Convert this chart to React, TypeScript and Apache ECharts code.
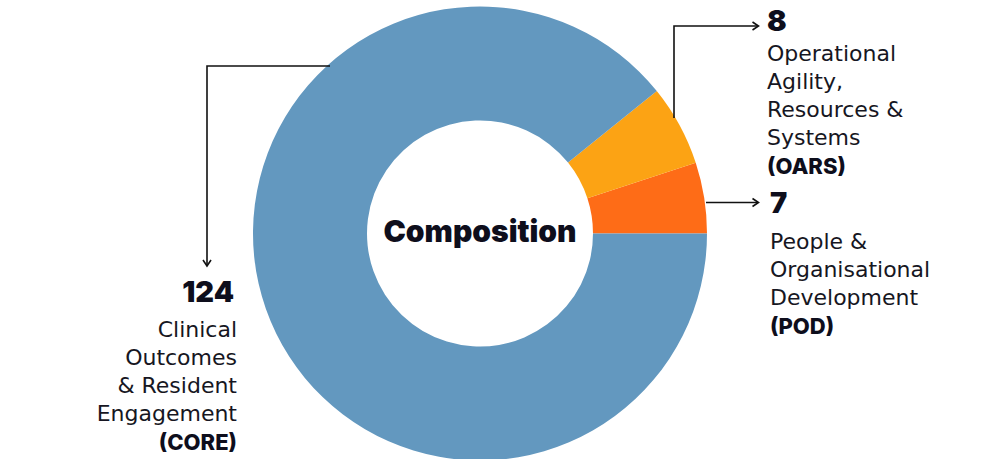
import React, { useEffect, useRef } from "react";
import * as echarts from "echarts";

// ---- data ----
const categories: string[] = ["CORE", "OARS", "POD"];
const values: number[] = [124, 8, 7];
const descriptions: string[][] = [
  ["Clinical", "Outcomes", "& Resident", "Engagement"],
  ["Operational", "Agility,", "Resources &", "Systems"],
  ["People &", "Organisational", "Development"],
];
const centerTitle = "Composition";

// ---- styles ----
const sliceColors: Record<string, string> = {
  CORE: "#6398bf",
  OARS: "#fca314",
  POD: "#fe6c17",
};
const ink = "#0e0e1c";
const BOLD_FONT = "Inter, 'Noto Sans', sans-serif";
const BODY_FONT = "'DejaVu Sans', 'Noto Sans', sans-serif";
const CX = 480;
const CY = 233.5;

export default function App() {
  const ref = useRef<HTMLDivElement>(null);

  useEffect(() => {
    if (!ref.current) return;
    const chart = echarts.init(ref.current, undefined, { renderer: "svg" });

    // pie order: counter-clockwise from 3 o'clock -> POD, OARS, CORE
    const order = [2, 1, 0];
    const pieData = order.map((i) => ({
      name: categories[i],
      value: values[i],
      itemStyle: { color: sliceColors[categories[i]] },
    }));

    const lh = 28.3;
    const blocks: { idx: number; x: number; vy: number; ly: number; align: "left" | "right" }[] = [
      { idx: 0, x: 237, vy: 291, ly: 329, align: "right" },
      { idx: 1, x: 767, vy: 20, ly: 53, align: "left" },
      { idx: 2, x: 770, vy: 202, ly: 241, align: "left" },
    ];

    const graphics: any[] = [];
    blocks.forEach((b) => {
      graphics.push({
        type: "text",
        x: b.align === "right" ? b.x - 3 : b.x,
        y: b.vy,
        style: {
          text: String(values[b.idx]),
          fill: ink,
          font: `900 29px ${BOLD_FONT}`,
          align: b.align,
          verticalAlign: "middle",
        },
      });
      const lines = [...descriptions[b.idx], `(${categories[b.idx]})`];
      lines.forEach((t, k) => {
        const bold = k === lines.length - 1;
        graphics.push({
          type: "text",
          x: b.x,
          y: b.ly + k * lh,
          style: {
            text: t,
            fill: bold ? ink : "#161622",
            font: bold ? `800 22px ${BOLD_FONT}` : `400 22px ${BODY_FONT}`,
            align: b.align,
            verticalAlign: "middle",
          },
        });
      });
    });

    graphics.push({
      type: "text",
      x: CX,
      y: 231,
      style: {
        text: centerTitle,
        fill: ink,
        font: `900 30px ${BOLD_FONT}`,
        align: "center",
        verticalAlign: "middle",
      },
    });

    const lineStyle = { stroke: "#111111", lineWidth: 1.6, fill: "none" };
    const leaders: number[][][] = [
      [[330, 66], [207, 66], [207, 266]],
      [[674, 118], [674, 26], [758, 26]],
      [[706, 202.5], [758, 202.5]],
    ];
    const arrows: number[][][] = [
      [[203, 260], [207, 266], [211, 260]],
      [[752.5, 22], [758.5, 26], [752.5, 30]],
      [[752.5, 198.5], [758.5, 202.5], [752.5, 206.5]],
    ];
    leaders.forEach((pts) =>
      graphics.push({ type: "polyline", shape: { points: pts }, style: lineStyle, z: 10 })
    );
    arrows.forEach((pts) =>
      graphics.push({ type: "polyline", shape: { points: pts }, style: lineStyle, z: 10 })
    );

    chart.setOption({
      animation: false,
      backgroundColor: "#ffffff",
      series: [
        {
          type: "pie",
          center: [CX, CY],
          radius: [113, 227],
          startAngle: 0,
          clockwise: false,
          label: { show: false },
          labelLine: { show: false },
          emphasis: { disabled: true },
          itemStyle: { borderWidth: 0 },
          data: pieData,
        },
      ],
      graphic: graphics,
    });

    return () => chart.dispose();
  }, []);

  return (
    <div
      ref={ref}
      style={{ position: "fixed", left: 0, top: 0, width: 982, height: 459 }}
    />
  );
}
